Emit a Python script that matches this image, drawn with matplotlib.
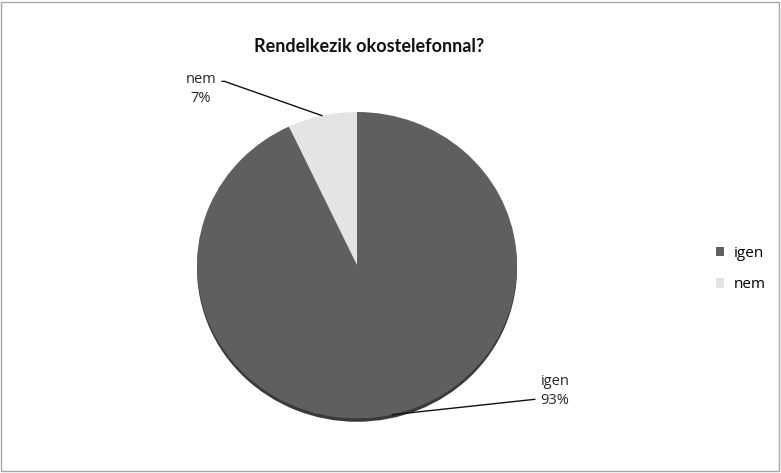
import numpy as np
import matplotlib.pyplot as plt
from matplotlib.patches import Rectangle

plt.rcParams['font.family'] = ['Open Sans', 'DejaVu Sans']

labels = ['igen', 'nem']
values = [93, 7]
colors = ['#5f5f5f', '#e4e4e4']
title = 'Rendelkezik okostelefonnal?'

W, H = 781, 473
fig = plt.figure(figsize=(W / 100, H / 100), dpi=100)

# címkék helye pixelben (középpont)
text_pos = {'igen': (555, 391), 'nem': (201, 89)}
relpos = {'igen': (0.0, 0.28), 'nem': (1.0, 0.72)}
conn = {'igen': 'arc3,rad=0', 'nem': 'arc,angleA=0,armA=8,armB=0,rad=0'}

# pie terület pixelben: bal, felső, szélesség, magasság
px, py, pw, ph = 197, 112, 320, 311
ax = fig.add_axes([px / W, 1 - (py + ph) / H, pw / W, ph / H])

# árnyék alul
ax.pie([1], colors=['#3a3a3a'], radius=1.0, center=(0, -0.022),
       wedgeprops=dict(linewidth=0))
wedges, _ = ax.pie(values, colors=colors, startangle=90, counterclock=False,
                   radius=1.0, wedgeprops=dict(linewidth=0))
ax.set_aspect('auto')
ax.set_xlim(-1, 1)
ax.set_ylim(-1.03, 1)

for w, lab, v in zip(wedges, labels, values):
    ang = np.deg2rad((w.theta1 + w.theta2) / 2)
    tx, ty = text_pos[lab]
    ax.annotate(f'{lab}\n{v}%', xy=(np.cos(ang), np.sin(ang)),
                xytext=(tx / W, 1 - ty / H), textcoords='figure fraction',
                ha='center', va='center', fontsize=10.5, color='#262626',
                linespacing=1.45,
                arrowprops=dict(arrowstyle='-', color='#111111', lw=1.0,
                                relpos=relpos[lab], connectionstyle=conn[lab],
                                shrinkA=2, shrinkB=0))

plt.rcParams['font.family'] = ['Lato', 'DejaVu Sans']
fig.text(369 / W, 1 - 47 / H, title, ha='center', va='center',
         fontsize=13, fontweight='bold', color='#111111',
         family=['Lato', 'DejaVu Sans'])

fig.legend(wedges, labels, loc='center left',
           bbox_to_anchor=(716 / W, 1 - 269 / H), frameon=False,
           borderpad=0, borderaxespad=0,
           prop=dict(family=['Open Sans', 'DejaVu Sans'], size=11),
           handlelength=0.55, handleheight=0.55,
           handletextpad=0.6, labelspacing=1.1)

fig.patches.append(Rectangle((1 / W, 2 / H), (W - 3) / W, (H - 4) / H,
                             transform=fig.transFigure, fill=False,
                             edgecolor='#a6a6a6', linewidth=1))

fig.savefig('out.png', dpi=100)
